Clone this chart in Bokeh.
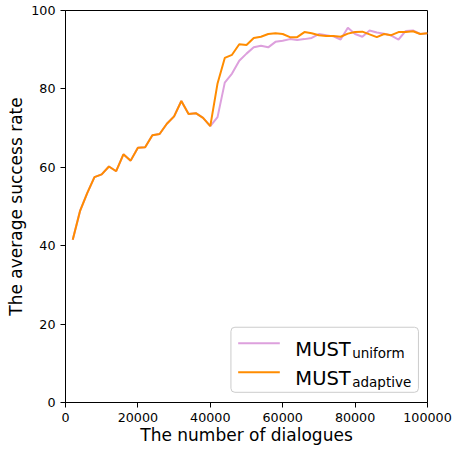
from bokeh.plotting import figure
from bokeh.models import Range1d, FixedTicker, BasicTickFormatter, BoxAnnotation, Arrow, Label
from bokeh.embed import file_html
from bokeh.resources import INLINE

dialogues = [2000, 4000, 6000, 8000, 10000, 12000, 14000, 16000, 18000, 20000,
             22000, 24000, 26000, 28000, 30000, 32000, 34000, 36000, 38000, 40000,
             42000, 44000, 46000, 48000, 50000, 52000, 54000, 56000, 58000, 60000,
             62000, 64000, 66000, 68000, 70000, 72000, 74000, 76000, 78000, 80000,
             82000, 84000, 86000, 88000, 90000, 92000, 94000, 96000, 98000, 100000]

must_uniform = [41.5, 48.8, 53.4, 57.5, 58.2, 60.2, 59.0, 63.3, 61.7, 65.0,
                65.1, 68.2, 68.5, 71.1, 73.0, 76.9, 73.6, 73.8, 72.6, 70.5,
                72.8, 81.6, 83.9, 87.2, 89.0, 90.6, 91.0, 90.6, 92.0, 92.3,
                92.7, 92.5, 92.7, 93.0, 94.0, 93.7, 93.4, 92.6, 95.6, 94.0,
                93.3, 94.9, 94.4, 94.1, 93.6, 92.6, 94.8, 94.9, 94.0, 94.2]

must_adaptive = [41.5, 48.8, 53.4, 57.5, 58.2, 60.2, 59.0, 63.3, 61.7, 65.0,
                 65.1, 68.2, 68.5, 71.1, 73.0, 76.9, 73.6, 73.8, 72.6, 70.5,
                 81.4, 87.9, 88.7, 91.4, 91.2, 93.0, 93.3, 94.0, 94.2, 94.0,
                 93.2, 93.2, 94.5, 94.2, 93.7, 93.5, 93.5, 93.3, 94.1, 94.5,
                 94.6, 93.9, 93.2, 94.0, 93.7, 94.5, 94.5, 94.7, 94.0, 94.2]

x_ticks = [0, 20000, 40000, 60000, 80000, 100000]
y_ticks = [0, 20, 40, 60, 80, 100]

x_title = "The number of dialogues"
y_title = "The average success rate"

series_names = ["MUST", "MUST"]
series_subs = ["uniform", "adaptive"]
series_colors = ["plum", "darkorange"]

FONT = "DejaVu Sans"

p = figure(width=452, height=450, output_backend="svg", toolbar_location=None,
           x_range=Range1d(0, 100000), y_range=Range1d(0, 100),
           min_border_left=65, min_border_right=25, min_border_top=10, min_border_bottom=48)

p.xgrid.visible = False
p.ygrid.visible = False
p.outline_line_color = "black"
p.outline_line_width = 1
p.outline_line_alpha = 1

for ax in (p.xaxis[0], p.yaxis[0]):
    ax.axis_line_color = "black"
    ax.major_tick_line_color = "black"
    ax.major_tick_out = 5
    ax.major_tick_in = 0
    ax.minor_tick_line_color = None
    ax.major_label_text_font = FONT
    ax.major_label_text_font_size = "12.7px"
    ax.major_label_text_color = "black"
    ax.axis_label_text_font = FONT
    ax.axis_label_text_font_size = "17px"
    ax.axis_label_text_font_style = "normal"
    ax.axis_label_text_color = "black"

p.xaxis.ticker = FixedTicker(ticks=x_ticks)
p.yaxis.ticker = FixedTicker(ticks=y_ticks)
p.xaxis.formatter = BasicTickFormatter(use_scientific=False)
p.xaxis.axis_label = x_title
p.yaxis.axis_label = y_title
p.xaxis.major_label_standoff = 5
p.xaxis.axis_label_standoff = 0
p.yaxis.major_label_standoff = 5
p.yaxis.axis_label_standoff = 2

p.line(dialogues, must_uniform, line_color=series_colors[0], line_width=2)
p.line(dialogues, must_adaptive, line_color=series_colors[1], line_width=2)

# legend (drawn manually to support subscripts)
box = BoxAnnotation(left=45700, right=97500, bottom=2.6, top=19.2,
                    fill_color="white", fill_alpha=0.85,
                    line_color="#cccccc", line_width=1, line_alpha=1,
                    border_radius=4)
p.add_layout(box)

rows_y = [15.1, 7.7]
for i in range(2):
    yy = rows_y[i]
    p.add_layout(Arrow(x_start=47700, y_start=yy, x_end=59200, y_end=yy,
                       start=None, end=None, line_color=series_colors[i], line_width=2))
    p.add_layout(Label(x=63500, y=yy - 1.7, text=series_names[i],
                       text_font=FONT, text_font_size="19.5px", text_color="black",
                       text_baseline="alphabetic", text_align="left"))
    p.add_layout(Label(x=79200, y=yy - 2.5, text=series_subs[i],
                       text_font=FONT, text_font_size="13.5px", text_color="black",
                       text_baseline="alphabetic", text_align="left"))

open("out.html", "w").write(file_html(p, INLINE))
